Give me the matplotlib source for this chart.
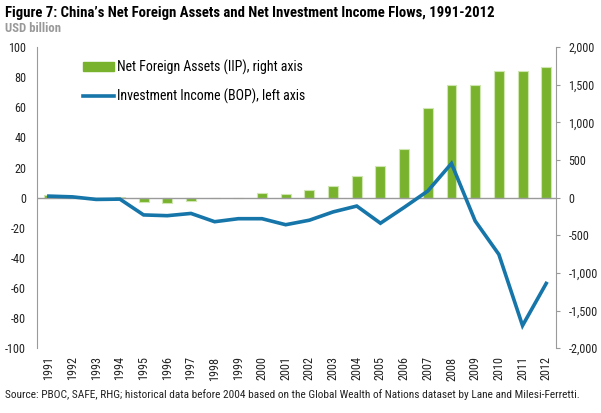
import numpy as np
import matplotlib.pyplot as plt
from matplotlib.ticker import FuncFormatter
from matplotlib.patches import Patch
from matplotlib.lines import Line2D

years = [str(y) for y in range(1991, 2013)]

# Net foreign assets (IIP), USD billion, right axis
nfa = [30, 5, 0, 5, -60, -70, -40, -10, 0, 55, 50,
       105, 150, 288, 415, 650, 1188, 1494, 1491, 1688, 1688, 1736]

# Net investment income (BOP), USD billion, left axis
income = [1.0, 0.5, -1.2, -1.0, -11.5, -12.0, -10.5, -16.0, -14.0, -14.0, -18.0,
          -15.0, -9.5, -5.6, -17.0, -6.5, 4.4, 22.7, -15.5, -37.7, -85.0, -57.0]

green = "#79B32D"
blue = "#1675A9"
grey = "#9A9A9A"

plt.rcParams['font.family'] = ['Roboto Condensed', 'DejaVu Sans']

fig = plt.figure(figsize=(6.01, 4.13), dpi=100)
ax = fig.add_axes([0.062, 0.157, 0.863, 0.729])
ax2 = ax.twinx()

x = np.arange(len(years))

# bars on the right axis
ax2.bar(x, nfa, width=0.42, color=green, edgecolor="#CFE6B0", linewidth=0.8, zorder=2)
ax2.set_ylim(-2000, 2000)
ax2.set_yticks(np.arange(-2000, 2001, 500))
ax2.yaxis.set_major_formatter(FuncFormatter(lambda v, p: f"{int(v):,}"))

# line on the left axis, drawn above the bars
ax.set_zorder(ax2.get_zorder() + 1)
ax.patch.set_visible(False)
ax.axhline(0, color=grey, linewidth=1.0, zorder=1)
ax.plot(x, income, color=blue, linewidth=2.6, solid_joinstyle="miter", zorder=3)
ax.set_ylim(-100, 100)
ax.set_yticks(np.arange(-100, 101, 20))
ax.yaxis.set_major_formatter(FuncFormatter(lambda v, p: f"{int(v)}"))
ax.set_xlim(-0.49, 21.41)
ax.set_xticks(x)
ax.set_xticklabels(years, rotation=90)

for a in (ax, ax2):
    for s in ("top", "bottom"):
        a.spines[s].set_visible(False)
    a.tick_params(colors="#222222", labelsize=8.7)
ax.spines["right"].set_visible(False)
ax2.spines["left"].set_visible(False)
ax.spines["left"].set_color(grey)
ax2.spines["right"].set_color(grey)
ax.tick_params(axis="y", length=0, pad=8)
ax.tick_params(axis="x", length=0, pad=6)
ax2.tick_params(axis="y", length=3, color=grey, pad=6)

handles = [Patch(facecolor=green, edgecolor=green),
           Line2D([0], [0], color=blue, linewidth=2.6)]
labels = ["Net Foreign Assets (IIP), right axis", "Investment Income (BOP), left axis"]
leg = ax.legend(handles, labels, loc="upper left", bbox_to_anchor=(0.065, 1.0),
                frameon=False, fontsize=10, handlelength=2.2, handleheight=0.6,
                handletextpad=0.2, labelspacing=1.0)

fig.text(0.008, 0.968, "Figure 7: China\u2019s Net Foreign Assets and Net Investment Income Flows, 1991-2012",
         fontsize=10.6, fontweight="bold", color="black", va="center")
fig.text(0.008, 0.930, "USD billion", fontsize=9.2, fontweight="bold", color="#999999", va="center")
fig.text(0.008, 0.045, "Source: PBOC, SAFE, RHG; historical data before 2004 based on the Global Wealth of Nations "
         "dataset by Lane and Milesi-Ferretti.", fontsize=8.2, color="#222222", va="center")

fig.savefig("out.png", dpi=100)
